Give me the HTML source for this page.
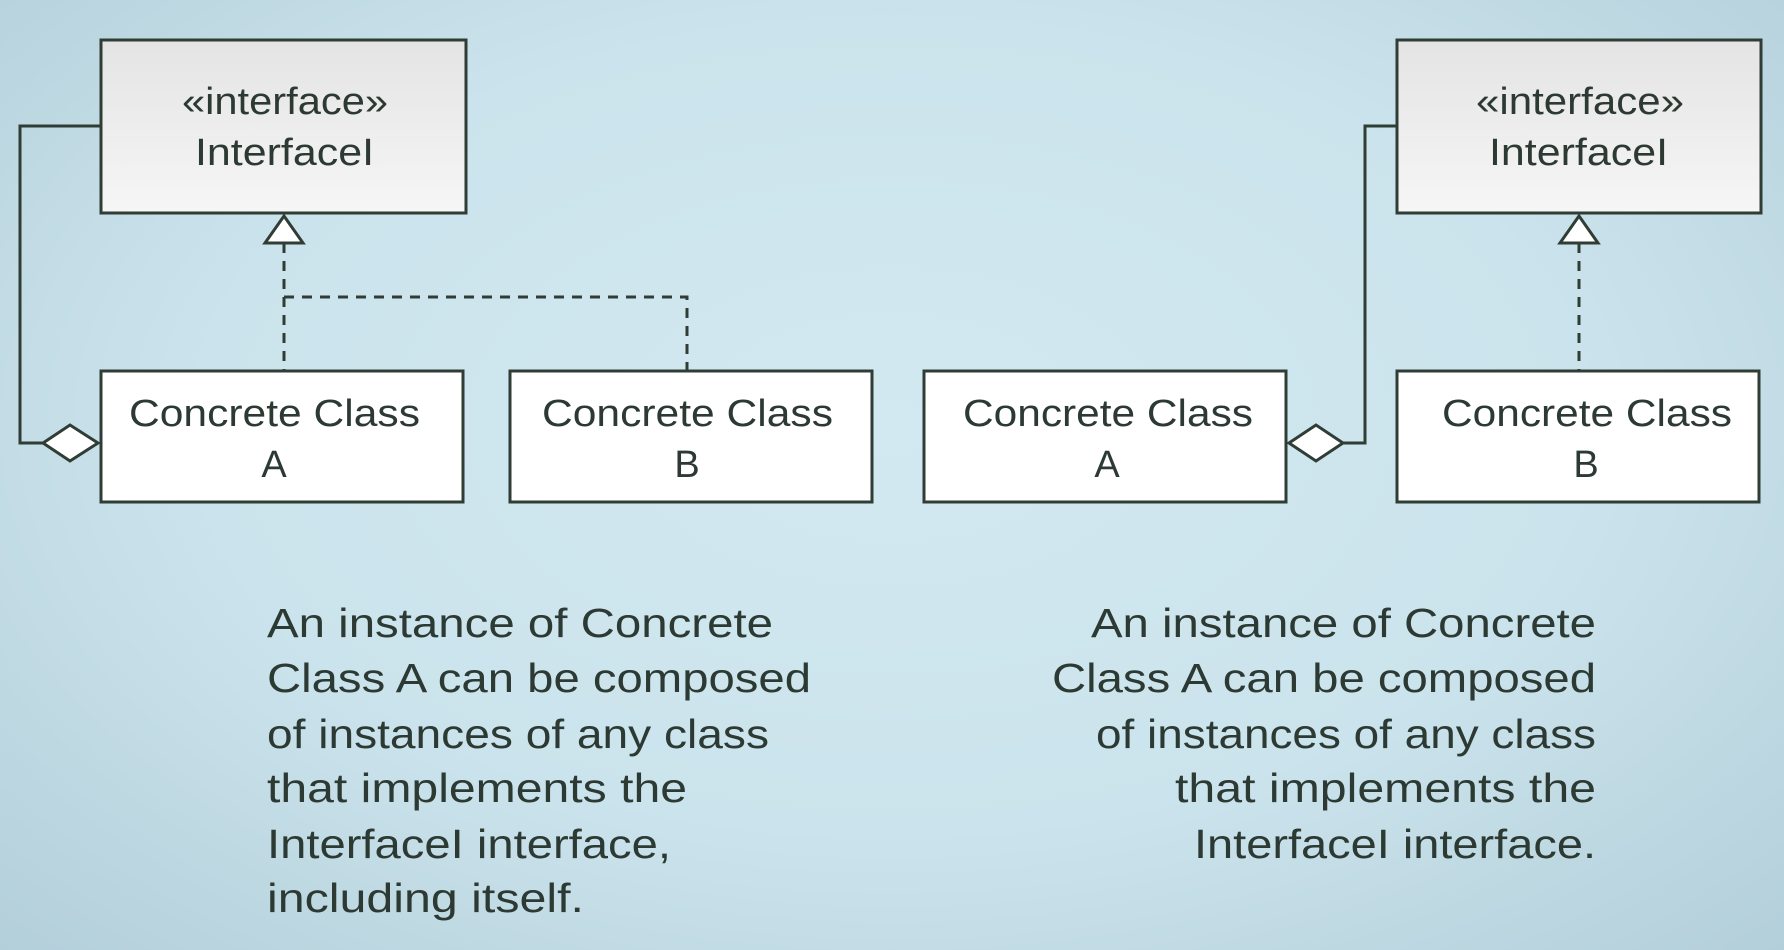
<!DOCTYPE html>
<html><head><meta charset="utf-8"><style>
html,body{margin:0;padding:0;}
body{width:1784px;height:950px;overflow:hidden;background:radial-gradient(ellipse at 50% 45%,#d3e9f1 0%,#cbe3ec 55%,#b3cfda 100%);}
svg{display:block;}
text{font-family:"Liberation Sans",sans-serif;fill:#2c3a33;}
</style></head><body>
<svg width="1784" height="950" viewBox="0 0 1784 950" xmlns="http://www.w3.org/2000/svg">
<defs><linearGradient id="g" x1="0" y1="0" x2="0" y2="1"><stop offset="0" stop-color="#e4e4e4"/><stop offset="1" stop-color="#f6f6f6"/></linearGradient></defs>
<g stroke="#2f3d35" stroke-width="3" fill="none">
<!-- left -->
<rect x="101" y="40" width="365" height="173" fill="url(#g)"/>
<rect x="101" y="371" width="362" height="131" fill="#fff"/>
<rect x="510" y="371" width="362" height="131" fill="#fff"/>
<polyline points="101,126 20,126 20,443 43,443"/>
<polygon points="43,443 70,425 98,443 70,461" fill="#fff"/>
<polygon points="284,216 265,243 303,243" fill="#fff"/>
<path d="M284 243 V371 M284 297 H687 V371" stroke-dasharray="10 8"/>
<!-- right -->
<rect x="1397" y="40" width="364" height="173" fill="url(#g)"/>
<rect x="924" y="371" width="362" height="131" fill="#fff"/>
<rect x="1397" y="371" width="362" height="131" fill="#fff"/>
<polyline points="1397,126 1365,126 1365,443 1343,443"/>
<polygon points="1289,443 1316,425 1343,443 1316,461" fill="#fff"/>
<polygon points="1579,216 1560,243 1598,243" fill="#fff"/>
<path d="M1579 243 V371" stroke-dasharray="10 8"/>
</g>
<g font-size="38">
<text x="182" y="114" textLength="206" lengthAdjust="spacingAndGlyphs">«interface»</text>
<text x="195" y="165" textLength="179" lengthAdjust="spacingAndGlyphs">InterfaceI</text>
<text x="1476" y="114" textLength="208" lengthAdjust="spacingAndGlyphs">«interface»</text>
<text x="1489" y="165" textLength="179" lengthAdjust="spacingAndGlyphs">InterfaceI</text>
<text x="129" y="426" textLength="291" lengthAdjust="spacingAndGlyphs">Concrete Class</text>
<text x="274" y="477" text-anchor="middle">A</text>
<text x="542" y="426" textLength="291" lengthAdjust="spacingAndGlyphs">Concrete Class</text>
<text x="687" y="477" text-anchor="middle">B</text>
<text x="963" y="426" textLength="290" lengthAdjust="spacingAndGlyphs">Concrete Class</text>
<text x="1107" y="477" text-anchor="middle">A</text>
<text x="1442" y="426" textLength="290" lengthAdjust="spacingAndGlyphs">Concrete Class</text>
<text x="1586" y="477" text-anchor="middle">B</text>
</g>
<g font-size="41">
<text x="267" y="637" textLength="506" lengthAdjust="spacingAndGlyphs">An instance of Concrete</text>
<text x="267" y="692" textLength="544" lengthAdjust="spacingAndGlyphs">Class A can be composed</text>
<text x="267" y="748" textLength="502" lengthAdjust="spacingAndGlyphs">of instances of any class</text>
<text x="267" y="802" textLength="420" lengthAdjust="spacingAndGlyphs">that implements the</text>
<text x="267" y="858" textLength="404" lengthAdjust="spacingAndGlyphs">InterfaceI interface,</text>
<text x="267" y="912" textLength="317" lengthAdjust="spacingAndGlyphs">including itself.</text>
<text x="1091" y="637" textLength="505" lengthAdjust="spacingAndGlyphs">An instance of Concrete</text>
<text x="1052" y="692" textLength="544" lengthAdjust="spacingAndGlyphs">Class A can be composed</text>
<text x="1096" y="748" textLength="500" lengthAdjust="spacingAndGlyphs">of instances of any class</text>
<text x="1175" y="802" textLength="421" lengthAdjust="spacingAndGlyphs">that implements the</text>
<text x="1194" y="858" textLength="402" lengthAdjust="spacingAndGlyphs">InterfaceI interface.</text>
</g>
</svg>
</body></html>
